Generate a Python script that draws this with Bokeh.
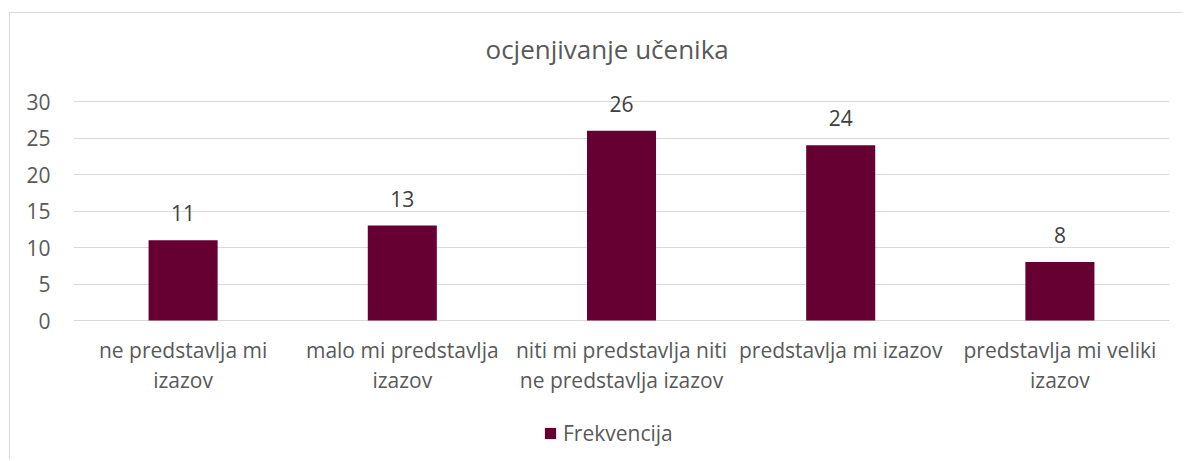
from bokeh.plotting import figure
from bokeh.models import ColumnDataSource, Range1d, FactorRange, Legend, LegendItem, FixedTicker, Title
from bokeh.core.properties import value
from bokeh.embed import file_html
from bokeh.resources import INLINE

categories = [
    "ne predstavlja mi\nizazov",
    "malo mi predstavlja\nizazov",
    "niti mi predstavlja niti\nne predstavlja izazov",
    "predstavlja mi izazov",
    "predstavlja mi veliki\nizazov",
]
frekvencija = [11, 13, 26, 24, 8]
labels = [str(v) for v in frekvencija]
y_ticks = [0, 5, 10, 15, 20, 25, 30]
title_text = "ocjenjivanje učenika"
series_name = "Frekvencija"

FONT = "Open Sans"
TXT = "#595959"
BAR = "#660033"

# the value axis 0..30 spans 219 px (7.3 px per unit); the frame is extended
# above 30 (room for value labels) and below zero (category labels, legend)
PX_PER_UNIT = 7.3
Y_MAX = 30 + 21 / PX_PER_UNIT
Y_MIN = -(140 / PX_PER_UNIT)

src = ColumnDataSource(dict(cat=categories, val=frekvencija, lab=labels,
                            zero=[0] * len(categories)))

p = figure(
    x_range=FactorRange(*categories),
    y_range=Range1d(Y_MIN, Y_MAX),
    width=1174, height=447,
    output_backend="svg", toolbar_location=None,
    min_border_left=63, min_border_right=15,
    min_border_top=67, min_border_bottom=0,
)
p.styles = {"border-top": "1px solid #d9d9d9", "border-left": "1px solid #d9d9d9",
            "margin-top": "12px", "margin-left": "9px"}
p.outline_line_color = None
p.background_fill_color = "white"
p.border_fill_color = "white"

t = Title(text=title_text, align="left", text_font=FONT, text_font_size="26px",
          text_color=TXT, text_font_style="normal", standoff=27, offset=412)
p.add_layout(t, "above")

r = p.vbar(x="cat", top="val", width=0.315, source=src, fill_color=BAR, line_color=None)

p.text(x="cat", y="val", text="lab", source=src, text_align="center",
       text_baseline="alphabetic", y_offset=-27, text_font=value(FONT),
       text_font_size="21px", text_color="#404040")

# category labels below the zero line
p.text(x="cat", y="zero", text="cat", source=src, text_align="center",
       text_baseline="top", y_offset=15, text_font=value(FONT),
       text_font_size="21px", text_color=TXT, text_line_height=1.1)

p.xaxis.visible = False
p.xgrid.grid_line_color = None
p.ygrid.ticker = FixedTicker(ticks=y_ticks)
p.ygrid.grid_line_color = "#d9d9d9"
p.ygrid.grid_line_width = 1
p.yaxis.ticker = FixedTicker(ticks=y_ticks)
p.yaxis.axis_line_color = None
p.yaxis.major_tick_line_color = None
p.yaxis.minor_tick_line_color = None
p.yaxis.major_tick_out = 0
p.yaxis.major_tick_in = 0
p.yaxis.major_label_standoff = 23
p.yaxis.major_label_text_font = FONT
p.yaxis.major_label_text_font_size = "21px"
p.yaxis.major_label_text_color = TXT

legend = Legend(items=[LegendItem(label=series_name, renderers=[r])],
                orientation="horizontal", location=(470, 13),
                label_text_font=FONT, label_text_font_size="21px", label_text_color=TXT,
                glyph_width=14, glyph_height=14, label_standoff=6,
                border_line_color=None, background_fill_alpha=0,
                margin=0, padding=0)
p.add_layout(legend, "center")

open("out.html", "w").write(file_html(p, INLINE))
